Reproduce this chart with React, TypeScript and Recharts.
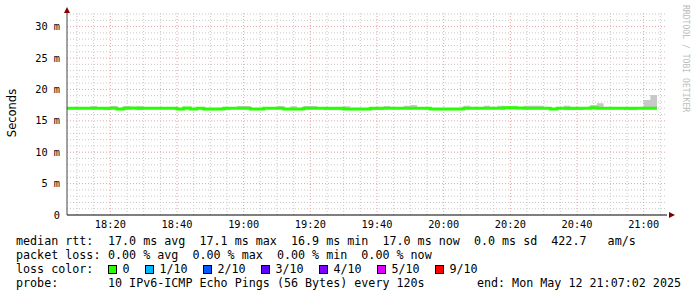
import React from 'react';
import {
  ComposedChart,
  Area,
  Line,
  XAxis,
  YAxis,
  CartesianGrid,
  ReferenceDot,
} from 'recharts';

// minutes after 18:07:02, one sample every 120 s
const sampleStarts = [0, ...Array.from({ length: 88 }, (_, i) => 1 + 2 * i)];
const sampleEnd = 177;

// median rtt per step (ms)
const median = [
  17.0, 17.0, 17.0, 17.0, 17.0, 17.0, 17.0, 17.0, 16.9, 17.0,
  17.05, 17.0, 17.0, 17.0, 17.0, 17.0, 17.0, 16.9, 17.05, 16.9,
  17.0, 16.9, 16.9, 16.9, 17.0, 17.0, 17.0, 17.0, 16.9, 16.9,
  17.0, 17.0, 17.0, 16.9, 16.9, 16.9, 17.0, 17.0, 17.0, 17.0,
  17.0, 17.0, 16.9, 16.9, 16.9, 16.9, 17.0, 17.0, 17.0, 17.0,
  17.0, 17.0, 17.0, 17.0, 17.0, 16.9, 16.9, 16.9, 16.9, 16.9,
  17.0, 17.0, 17.0, 17.0, 17.0, 17.0, 17.1, 17.1, 17.05, 17.0,
  17.0, 17.0, 17.0, 16.9, 17.0, 17.0, 17.0, 17.0, 17.0, 17.1,
  17.0, 17.0, 17.0, 17.0, 17.0, 17.0, 17.0, 17.0, 17.0,
];

// smoke: fastest and slowest ping per step (ms)
const smokeHigh = [
  17.1, 17.1, 17.1, 17.1, 17.35, 17.1, 17.1, 17.35, 17.05, 17.35,
  17.2, 17.3, 17.1, 17.1, 17.1, 17.1, 17.1, 17.0, 17.15, 17.0,
  17.1, 17.0, 17.0, 17.0, 17.1, 17.1, 17.35, 17.35, 17.0, 17.0,
  17.1, 17.1, 17.35, 17.0, 17.3, 17.0, 17.35, 17.35, 17.1, 17.1,
  17.1, 17.1, 17.3, 17.0, 17.0, 17.0, 17.1, 17.1, 17.35, 17.1,
  17.1, 17.4, 17.5, 17.1, 17.1, 17.0, 17.0, 17.0, 17.0, 17.0,
  17.4, 17.1, 17.1, 17.4, 17.1, 17.4, 17.3, 17.3, 17.1, 17.4,
  17.4, 17.4, 17.1, 17.0, 17.1, 17.4, 17.1, 17.1, 17.1, 17.5,
  17.8, 17.1, 17.1, 17.1, 17.1, 17.1, 17.1, 18.3, 19.1,
];
const smokeLow = [
  16.9, 16.9, 16.9, 16.9, 16.9, 16.9, 16.7, 16.9, 16.8, 16.9,
  16.95, 16.7, 16.9, 16.9, 16.9, 16.9, 16.9, 16.8, 16.95, 16.8,
  16.9, 16.7, 16.7, 16.8, 16.7, 16.9, 16.9, 16.9, 16.8, 16.8,
  16.9, 16.9, 16.9, 16.8, 16.8, 16.8, 16.9, 16.9, 16.9, 16.7,
  16.7, 16.7, 16.8, 16.8, 16.8, 16.8, 16.7, 16.7, 16.9, 16.9,
  16.9, 16.9, 16.9, 16.9, 16.9, 16.8, 16.8, 16.8, 16.8, 16.8,
  16.9, 16.9, 16.9, 16.9, 16.9, 16.9, 17.0, 17.0, 16.95, 16.9,
  16.9, 16.9, 16.9, 16.8, 16.9, 16.7, 16.7, 16.7, 16.9, 16.95,
  16.9, 16.9, 16.9, 16.9, 16.7, 16.7, 16.9, 16.9, 16.9,
];

const timeTicks = [13, 33, 53, 73, 93, 113, 133, 153, 173];
const timeLabels = ['18:20', '18:40', '19:00', '19:20', '19:40', '20:00', '20:20', '20:40', '21:00'];
const minorTimes = [3, 8, 18, 23, 28, 38, 43, 48, 58, 63, 68, 78, 83, 88, 98, 103, 108, 118, 123, 128, 138, 143, 148, 158, 163, 168, 178];

const yTicks = [0, 5, 10, 15, 20, 25, 30];
const yLabels = ['0', '5 m', '10 m', '15 m', '20 m', '25 m', '30 m'];
const yMinor = [1, 2, 3, 4, 6, 7, 8, 9, 11, 12, 13, 14, 16, 17, 18, 19, 21, 22, 23, 24, 26, 27, 28, 29, 31, 32];
const yMax = 32.17;

const lossLabels = ['0', '1/10', '2/10', '3/10', '4/10', '5/10', '9/10'];
const lossColors = ['#26ff00', '#00b8ff', '#0059ff', '#5e00ff', '#7e00ff', '#dd00ff', '#ff0000'];
const lossBoxX = [108, 145, 203, 261, 319, 377, 435];

const rows = sampleStarts.map((t, i) => ({
  t,
  lo: smokeLow[i],
  band: +(smokeHigh[i] - smokeLow[i]).toFixed(2),
  median: median[i],
}));
rows.push({ ...rows[rows.length - 1], t: sampleEnd });

const mono = 'DejaVu Sans Mono';
const tickStyle = { fontFamily: mono, fontSize: 10.3, fill: '#000' };

const RightArrow = (p: any) => (
  <polygon points={`${p.cx + 2},${p.cy - 3} ${p.cx + 8},${p.cy} ${p.cx + 2},${p.cy + 3}`} fill="#800000" />
);
const UpArrow = (p: any) => (
  <polygon points={`${p.cx - 3},${p.cy} ${p.cx},${p.cy - 6} ${p.cx + 3},${p.cy}`} fill="#800000" />
);

export default function App() {
  return (
    <div style={{ position: 'absolute', left: 0, top: 0, width: 697, height: 297, background: '#fff' }}>
      <ComposedChart
        width={697}
        height={297}
        data={rows}
        margin={{ top: 13, right: 30, left: 0, bottom: 62 }}
      >
        <CartesianGrid
          horizontalValues={yMinor}
          verticalValues={minorTimes}
          stroke="#c8c8c8"
          strokeDasharray="1 2"
        />
        <CartesianGrid
          horizontalValues={yTicks.slice(1)}
          verticalValues={timeTicks}
          stroke="#e8a0a0"
          strokeDasharray="1 2"
        />
        <XAxis
          type="number"
          dataKey="t"
          domain={[0, 180]}
          ticks={timeTicks}
          tickFormatter={(v: number) => timeLabels[timeTicks.indexOf(v)]}
          allowDataOverflow
          height={20}
          tickLine={false}
          tickSize={4}
          tickMargin={2}
          axisLine={{ stroke: '#000' }}
          tick={tickStyle}
        />
        <YAxis
          type="number"
          domain={[0, yMax]}
          ticks={yTicks}
          tickFormatter={(v: number) => yLabels[yTicks.indexOf(v)]}
          allowDataOverflow
          width={67}
          tickLine={false}
          tickSize={5}
          tickMargin={2}
          axisLine={{ stroke: '#444' }}
          tick={tickStyle}
        />
        <Area
          type="stepAfter"
          dataKey="lo"
          stackId="smoke"
          stroke="none"
          fill="none"
          isAnimationActive={false}
        />
        <Area
          type="stepAfter"
          dataKey="band"
          stackId="smoke"
          stroke="none"
          fill="#c8c8c8"
          fillOpacity={1}
          isAnimationActive={false}
        />
        <Line
          type="stepAfter"
          dataKey="median"
          stroke="#26ff00"
          strokeWidth={3}
          strokeLinejoin="miter"
          strokeLinecap="butt"
          dot={false}
          isAnimationActive={false}
        />
        <ReferenceDot x={180} y={0} ifOverflow="visible" shape={RightArrow} />
        <ReferenceDot x={0} y={yMax} ifOverflow="visible" shape={UpArrow} />
      </ComposedChart>

      <svg
        width={697}
        height={297}
        style={{ position: 'absolute', left: 0, top: 0, pointerEvents: 'none' }}
      >
        <text
          transform="translate(16,113) rotate(-90)"
          textAnchor="middle"
          fontFamily="DejaVu Sans"
          fontSize={11.5}
          fill="#000"
        >
          Seconds
        </text>
        <text
          transform="translate(683,5) rotate(90)"
          fontFamily={mono}
          fontSize={8.1}
          fill="#bdbdbd"
        >
          RRDTOOL / TOBI OETIKER
        </text>

        <g fontFamily={mono} fontSize={11.7} fill="#000" style={{ whiteSpace: 'pre' }}>
          <text x={16} y={245}>median rtt:</text>
          <text x={108} y={245} xmlSpace="preserve">
            17.0 ms avg  17.1 ms max  16.9 ms min  17.0 ms now  0.0 ms sd  422.7   am/s
          </text>
          <text x={16} y={259}>packet loss:</text>
          <text x={108} y={259} xmlSpace="preserve">
            0.00 % avg  0.00 % max  0.00 % min  0.00 % now
          </text>
          <text x={16} y={273}>loss color:</text>
          {lossLabels.map((label, i) => (
            <g key={label}>
              <rect x={lossBoxX[i] + 0.5} y={265.5} width={8} height={8} fill={lossColors[i]} stroke="#000" strokeWidth={1} />
              <text x={lossBoxX[i] + 14.5} y={273}>{label}</text>
            </g>
          ))}
          <text x={16} y={287}>probe:</text>
          <text x={108} y={287} xmlSpace="preserve">
            10 IPv6-ICMP Echo Pings (56 Bytes) every 120s
          </text>
          <text x={681} y={287} textAnchor="end">end: Mon May 12 21:07:02 2025</text>
        </g>
      </svg>
    </div>
  );
}
